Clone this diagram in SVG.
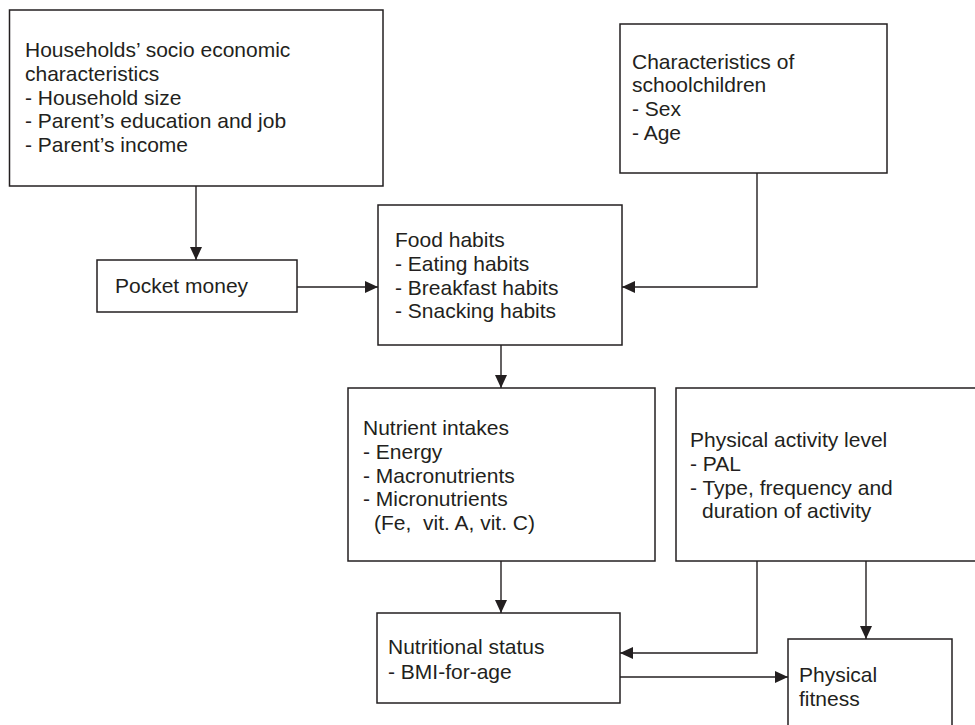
<svg xmlns="http://www.w3.org/2000/svg" width="975" height="725" viewBox="0 0 975 725">
<style>
.box{fill:#fff;stroke:#231f20;stroke-width:1.5}
.t{font-family:"Liberation Sans",Arial,sans-serif;font-size:21px;fill:#231f20}
.c{fill:none;stroke:#231f20;stroke-width:1.4}
</style>
<defs>
<marker id="ah" markerUnits="userSpaceOnUse" markerWidth="13" markerHeight="12" refX="13" refY="6" orient="auto">
<path d="M0,0 L13,6 L0,12 z" fill="#231f20"/>
</marker>
</defs>
<rect width="975" height="725" fill="#fff"/>
<g id="connectors">
<line class="c" x1="196" y1="186" x2="196" y2="260" marker-end="url(#ah)"/>
<line class="c" x1="297" y1="287" x2="378" y2="287" marker-end="url(#ah)"/>
<path class="c" d="M757,173 V287 H622" marker-end="url(#ah)"/>
<line class="c" x1="501" y1="345" x2="501" y2="388" marker-end="url(#ah)"/>
<line class="c" x1="501" y1="561" x2="501" y2="613" marker-end="url(#ah)"/>
<path class="c" d="M757,561 V653 H620" marker-end="url(#ah)"/>
<line class="c" x1="866" y1="561" x2="866" y2="639" marker-end="url(#ah)"/>
<line class="c" x1="620" y1="677" x2="788" y2="677" marker-end="url(#ah)"/>
</g>
<g id="households">
<rect class="box" x="9.5" y="10" width="373.5" height="176"/>
<text class="t" x="25" y="57">Households’ socio economic</text>
<text class="t" x="25" y="80.8">characteristics</text>
<text class="t" x="25" y="104.6">- Household size</text>
<text class="t" x="25" y="128.4">- Parent’s education and job</text>
<text class="t" x="25" y="152.2">- Parent’s income</text>
</g>
<g id="characteristics">
<rect class="box" x="620" y="24" width="267" height="149"/>
<text class="t" x="632" y="68.5">Characteristics of</text>
<text class="t" x="632" y="92.3">schoolchildren</text>
<text class="t" x="632" y="116.1">- Sex</text>
<text class="t" x="632" y="139.9">- Age</text>
</g>
<g id="pocket">
<rect class="box" x="97" y="260" width="200" height="52"/>
<text class="t" x="115" y="293">Pocket money</text>
</g>
<g id="food">
<rect class="box" x="378" y="205" width="244" height="140"/>
<text class="t" x="395" y="247">Food habits</text>
<text class="t" x="395" y="270.8">- Eating habits</text>
<text class="t" x="395" y="294.6">- Breakfast habits</text>
<text class="t" x="395" y="318.4">- Snacking habits</text>
</g>
<g id="nutrient">
<rect class="box" x="348" y="388" width="307" height="173"/>
<text class="t" x="363" y="435">Nutrient intakes</text>
<text class="t" x="363" y="458.8">- Energy</text>
<text class="t" x="363" y="482.6">- Macronutrients</text>
<text class="t" x="363" y="506.4">- Micronutrients</text>
<text class="t" x="374" y="530.2" xml:space="preserve">(Fe,  vit. A, vit. C)</text>
</g>
<g id="physical-activity">
<rect class="box" x="676" y="388" width="310" height="173"/>
<text class="t" x="690" y="447">Physical activity level</text>
<text class="t" x="690" y="470.8">- PAL</text>
<text class="t" x="690" y="494.6">- Type, frequency and</text>
<text class="t" x="702" y="518.4">duration of activity</text>
</g>
<g id="nutritional-status">
<rect class="box" x="377" y="613" width="243" height="90"/>
<text class="t" x="388" y="654">Nutritional status</text>
<text class="t" x="388" y="678.5">- BMI-for-age</text>
</g>
<g id="physical-fitness">
<rect class="box" x="788" y="639" width="164" height="100"/>
<text class="t" x="799" y="682">Physical</text>
<text class="t" x="799" y="706">fitness</text>
</g>
</svg>
